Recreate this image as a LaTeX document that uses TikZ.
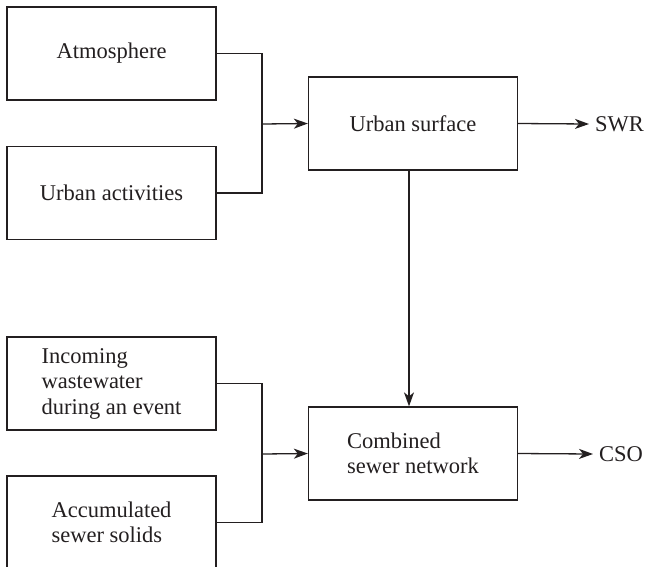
\documentclass[tikz,border=0pt]{standalone}
\usepackage{fontspec}
\setmainfont{Liberation Serif}
\usetikzlibrary{arrows.meta}
\definecolor{ink}{HTML}{231F20}
\begin{document}
\begin{tikzpicture}[x=1pt,y=-1pt,
  every node/.style={text=ink,font=\fontsize{22.5}{25.5}\selectfont},
  box/.style={draw=ink,line width=1.3pt,minimum width=209pt,minimum height=93pt,inner sep=0pt,align=left},
  lnk/.style={draw=ink,line width=1.3pt},
  arr/.style={lnk,-{Stealth[length=14pt,width=10pt,inset=4pt]}},
  outlbl/.style={anchor=west,inner xsep=6pt,inner ysep=0pt}]
\clip (0,0) rectangle (647,566);
\fill[white] (0,0) rectangle (647,566);
\node[box] (atm) at (111.5,53.5) {Atmosphere};
\node[box] (act) at (111.5,193) {Urban activities};
\node[box] (inc) at (111.5,383.5) {Incoming\\wastewater\\during an event};
\node[box] (acc) at (111.5,522.5) {Accumulated\\sewer solids};
\node[box] (surf) at (413,123.5) {Urban surface};
\node[box] (comb) at (413,453.5) {Combined\\sewer network};
\node[outlbl] (swr) at (589,124) {SWR};
\node[outlbl] (cso) at (593,454) {CSO};
\coordinate (j1) at (262,124);
\coordinate (j2) at (262,454);
\draw[lnk] (atm.east) -| (j1);
\draw[lnk] (act.east) -| (j1);
\draw[arr] (j1) -- (surf.west);
\draw[lnk] (inc.east) -| (j2);
\draw[lnk] (acc.east) -| (j2);
\draw[arr] (j2) -- (comb.west);
\draw[arr] (surf.east) -- (swr.west);
\draw[arr] (comb.east) -- (cso.west);
\draw[arr] ([xshift=-4pt]surf.south) -- ([xshift=-4pt]comb.north);
\end{tikzpicture}
\end{document}
